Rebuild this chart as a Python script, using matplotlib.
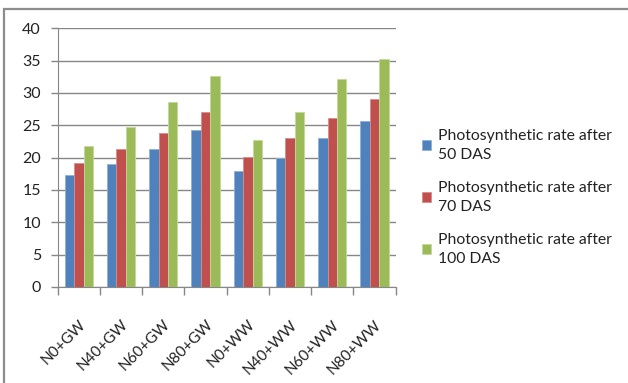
import matplotlib.pyplot as plt
import numpy as np

# treatments on the x axis
treatments = ["N0+GW", "N40+GW", "N60+GW", "N80+GW",
              "N0+WW", "N40+WW", "N60+WW", "N80+WW"]

# photosynthetic rate
das50 = [17.3, 19.0, 21.4, 24.2, 18.0, 20.0, 23.0, 25.7]
das70 = [19.2, 21.4, 23.8, 27.1, 20.1, 23.0, 26.1, 29.0]
das100 = [21.8, 24.7, 28.6, 32.7, 22.7, 27.1, 32.1, 35.3]

series_names = ["Photosynthetic rate after\n50 DAS",
                "Photosynthetic rate after\n70 DAS",
                "Photosynthetic rate after\n100 DAS"]

plt.rcParams['font.family'] = ['Lato', 'DejaVu Sans']

fig = plt.figure(figsize=(6.28, 3.83), dpi=100)
ax = fig.add_axes([57.7 / 628, 96 / 383, 338 / 628, 258.7 / 383])

# grey frame round the chart (only top and left show in the original)
frame = plt.Rectangle((4 / 628, -0.2), 1.2, 1.2 - 9 / 383,
                      transform=fig.transFigure, fill=False,
                      edgecolor="#8c8c8c", linewidth=1.6)
fig.add_artist(frame)

x = np.arange(len(treatments))
w = 1 / 4.5
cols = ["#4F81BD", "#C0504D", "#9BBB59"]
edges = ["#8fb0d8", "#d98c8a", "#c4d99b"]

for i, vals in enumerate([das50, das70, das100]):
    ax.bar(x + (i - 1) * w, vals, w, color=cols[i], edgecolor=edges[i],
           linewidth=0.6, label=series_names[i], zorder=3)

ax.set_xlim(-0.5, len(treatments) - 0.5)
ax.set_ylim(0, 40)
ax.set_yticks(range(0, 41, 5))
ax.yaxis.grid(True, color="#878787", linewidth=1.0, zorder=0)

for s in ["top", "right"]:
    ax.spines[s].set_visible(False)
ax.spines["left"].set_color("#878787")
ax.spines["bottom"].set_color("#878787")

ax.tick_params(axis="y", length=5, width=1, color="#878787", pad=7,
               labelsize=11.5, labelcolor="#222222")
ax.set_xticks(x)
ax.set_xticklabels(treatments, rotation=45, ha="right", va="top",
                   rotation_mode="anchor", fontsize=11, color="#222222")
ax.tick_params(axis="x", which="major", length=0, pad=22)
ax.set_xticks(np.arange(-0.5, len(treatments)), minor=True)
ax.tick_params(axis="x", which="minor", length=6, width=1, color="#878787")

leg = ax.legend(loc="upper left", bbox_to_anchor=(422 / 628, 1 - 129 / 383),
                bbox_transform=fig.transFigure, frameon=False, fontsize=11.3,
                handlelength=0.6, handleheight=0.6, handletextpad=0.45,
                labelspacing=1.2, borderaxespad=0, borderpad=0)
for t in leg.get_texts():
    t.set_linespacing(1.45)
    t.set_color("#222222")

plt.savefig("out.png", dpi=100)
